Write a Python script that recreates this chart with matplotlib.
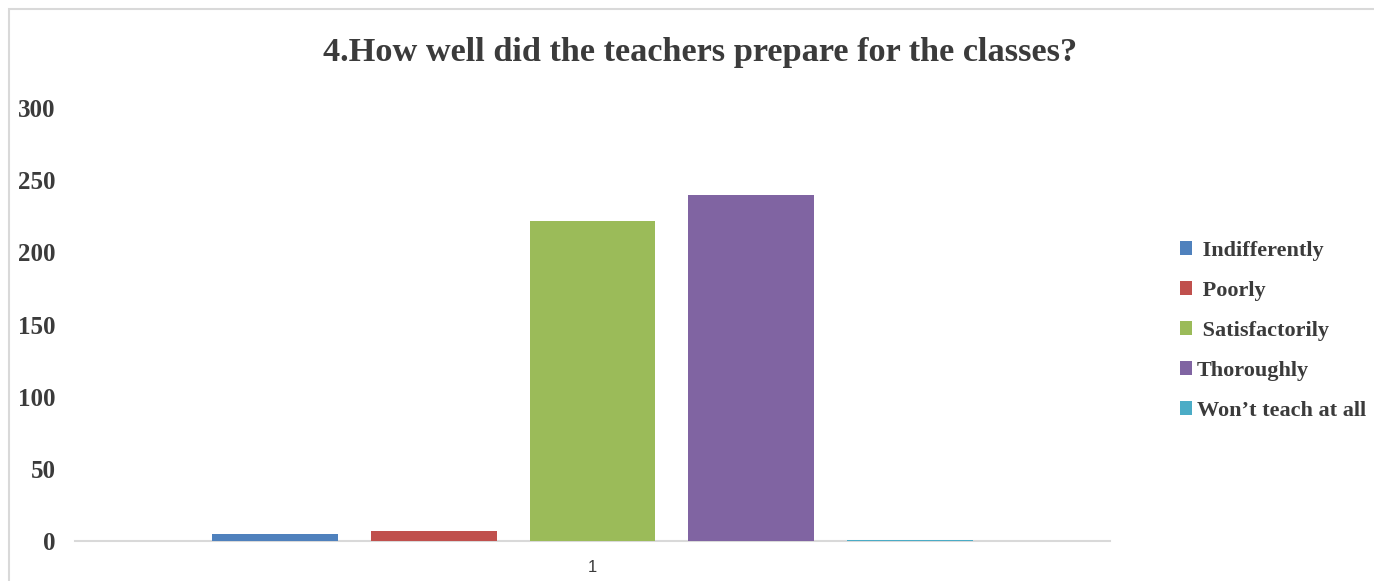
import matplotlib
matplotlib.use("Agg")
import matplotlib.pyplot as plt
from matplotlib.patches import Rectangle

categories = ["1"]
series_names = [" Indifferently", " Poorly", " Satisfactorily", "Thoroughly", "Won\u2019t teach at all"]
series_values = [5, 7, 222, 240, 1]
series_colors = ["#4f81bd", "#c0504d", "#9bbb59", "#8064a2", "#4bacc6"]
y_ticks = [0, 50, 100, 150, 200, 250, 300]
title = "4.How well did the teachers prepare for the classes?"

W, H = 1374, 581
fig = plt.figure(figsize=(W / 100, H / 100), dpi=100)
fig.patch.set_facecolor("white")

# chart frame
fig.add_artist(Rectangle((9 / W, -0.05), 1.2, 1 - 9 / H + 0.05, transform=fig.transFigure,
                         fill=False, edgecolor="#d9d9d9", linewidth=1.5))

ax = fig.add_axes([75 / W, 1 - 541 / H, (1110 - 75) / W, (541 - 108) / H])
text_color = "#3b3b3b"
serif = ["Liberation Serif", "DejaVu Serif"]

n = len(series_values)
width = 126 / 159
for i, (name, v, c) in enumerate(zip(series_names, series_values, series_colors)):
    ax.bar(i - (n - 1) / 2, v, width=width, color=c, label=name, zorder=3)

ax.set_xlim(-3.255, 3.255)
ax.set_ylim(0, 300)
ax.set_yticks(y_ticks)
ax.set_yticklabels([str(t) for t in y_ticks], fontfamily=serif, fontweight="bold",
                   fontsize=18, color=text_color)
ax.set_xticks([0])
ax.set_xticklabels(categories, fontfamily=["Liberation Sans", "DejaVu Sans"], fontsize=12,
                   color=text_color)
ax.tick_params(axis="y", length=0, pad=14)
ax.tick_params(axis="x", length=0, pad=14)
for s in ["top", "right", "left"]:
    ax.spines[s].set_visible(False)
ax.spines["bottom"].set_color("#d9d9d9")
ax.spines["bottom"].set_linewidth(1.5)
ax.spines["bottom"].set_zorder(1)

fig.text(700 / W, 1 - 52 / H, title, ha="center", va="center", fontfamily=serif,
         fontweight="bold", fontsize=24.7, color=text_color)

leg = ax.legend(loc="center left", bbox_to_anchor=(1160 / W, 1 - 331 / H),
                bbox_transform=fig.transFigure, frameon=False,
                prop={"family": serif, "weight": "bold", "size": 16},
                handlelength=0.55, handleheight=0.55, handletextpad=0.2, labelspacing=0.9,
                labelcolor=text_color)

fig.savefig("out.png", dpi=100)
